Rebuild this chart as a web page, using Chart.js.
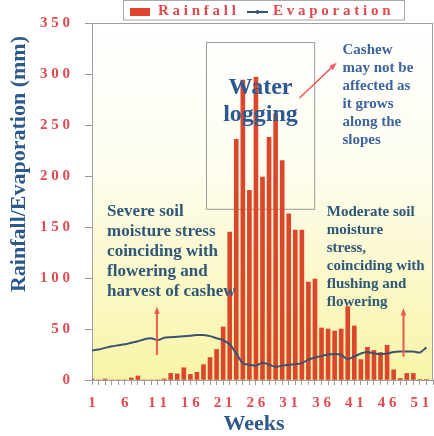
<!DOCTYPE html>
<html>
<head>
<meta charset="utf-8">
<title>Weekly rainfall and evaporation</title>
<script src="https://cdn.jsdelivr.net/npm/chart.js@4.4.1/dist/chart.umd.min.js"></script>
<style>
  html, body { margin: 0; padding: 0; background: #fff; }
  #wrap { width: 434px; height: 436px; }
</style>
</head>
<body>
<div id="wrap"><canvas id="rainChart" width="434" height="436"></canvas></div>
<script>
// Weekly values (mm)
const weeks = ['1', '2', '3', '4', '5', '6', '7', '8', '9', '10',
  '11', '12', '13', '14', '15', '16', '17', '18', '19', '20',
  '21', '22', '23', '24', '25', '26', '27', '28', '29', '30',
  '31', '32', '33', '34', '35', '36', '37', '38', '39', '40',
  '41', '42', '43', '44', '45', '46', '47', '48', '49', '50',
  '51', '52'];
const rainfall = [1, 0, 1, 0, 0, 0, 2, 4, 0, 0,
  0, 1, 6.5, 6, 12, 5.5, 7.5, 15, 22, 30,
  52, 145, 236, 294, 186, 297, 199, 238, 261, 215,
  163, 147, 147, 96, 99, 51, 50, 48, 50, 72,
  53, 20, 32, 29, 27, 34, 10, 1.5, 6.5, 6.5,
  0.5, 0.5];
const evaporation = [29, 30, 31.5, 33, 34, 35, 36.5, 38, 40, 41,
  39, 41.5, 42, 42.5, 43, 43.5, 44, 44, 43, 41,
  39, 35, 26, 16.5, 15, 14, 17, 15, 13, 14,
  15, 15.5, 16.5, 20, 22, 23.5, 25, 25.5, 24.5, 20.5,
  23, 26, 27.5, 26, 25.5, 26, 27.5, 28, 28, 28,
  27, 32];
const labeledWeeks = ['1', '6', '11', '16', '21', '26', '31', '36', '41', '46', '51'];

const SERIF = '"Liberation Serif", "Times New Roman", serif';
const RED = '#e04a50';
const spaced = s => String(s).split('').join(' ');

function drawArrow(ctx, x1, y1, x2, y2, color, width) {
  const a = Math.atan2(y2 - y1, x2 - x1);
  const head = 8;
  ctx.save();
  ctx.strokeStyle = color;
  ctx.fillStyle = color;
  ctx.lineWidth = width;
  ctx.beginPath();
  ctx.moveTo(x1, y1);
  ctx.lineTo(x2 - Math.cos(a) * head * 0.7, y2 - Math.sin(a) * head * 0.7);
  ctx.stroke();
  ctx.beginPath();
  ctx.moveTo(x2, y2);
  ctx.lineTo(x2 - head * Math.cos(a - 0.35), y2 - head * Math.sin(a - 0.35));
  ctx.lineTo(x2 - head * Math.cos(a + 0.35), y2 - head * Math.sin(a + 0.35));
  ctx.closePath();
  ctx.fill();
  ctx.restore();
}

function drawLines(ctx, lines, x, y, lh) {
  lines.forEach((t, i) => ctx.fillText(t, x, y + i * lh));
}

// background, box, legend, titles and notes
const decor = {
  id: 'decor',
  beforeDatasetsDraw(chart) {
    const {ctx, chartArea: a, scales: {x, y}} = chart;
    const g = ctx.createLinearGradient(0, a.top, 0, a.bottom);
    g.addColorStop(0, '#ffffff');
    g.addColorStop(0.4, '#fefdf0');
    g.addColorStop(1, '#f8f4a6');
    ctx.save();
    ctx.fillStyle = g;
    ctx.fillRect(a.left, a.top, a.right - a.left, a.bottom - a.top);
    ctx.strokeStyle = '#a0a0a0';
    ctx.lineWidth = 1;
    ctx.strokeRect(a.left + 0.5, a.top + 0.5, a.right - a.left - 1, a.bottom - a.top);
    // water logging box
    const px = w => x.getPixelForValue(w - 1);
    const bx1 = px(18.4), bx2 = px(34.9), by1 = y.getPixelForValue(331), by2 = y.getPixelForValue(167.5);
    ctx.strokeStyle = '#9a9a9a';
    ctx.strokeRect(Math.round(bx1) + 0.5, Math.round(by1) + 0.5, bx2 - bx1, by2 - by1);
    ctx.restore();
  },
  afterDatasetsDraw(chart) {
    const {ctx, scales: {x, y}} = chart;
    const px = w => x.getPixelForValue(w - 1);
    const py = v => y.getPixelForValue(v);
    ctx.save();
    ctx.textBaseline = 'middle';

    ctx.textAlign = 'center';
    ctx.fillStyle = '#2e5a92';
    ctx.font = 'bold 24px ' + SERIF;
    ctx.fillText('Water', px(26.7), py(286));
    ctx.fillText('logging', px(26.7), py(260));

    ctx.textAlign = 'left';
    ctx.fillStyle = '#3c64a0';
    ctx.font = 'bold 15px ' + SERIF;
    drawLines(ctx, ['Cashew', 'may not be', 'affected as', 'it grows', 'along the', 'slopes'], px(39.2), py(323.5), 18);

    ctx.fillStyle = '#2f5878';
    ctx.font = 'bold 17px ' + SERIF;
    drawLines(ctx, ['Severe soil', 'moisture stress', 'coinciding with', 'flowering and', 'harvest of cashew'], px(3.3), py(165), 20);

    ctx.font = 'bold 15px ' + SERIF;
    drawLines(ctx, ['Moderate soil', 'moisture', 'stress,', 'coinciding with', 'flushing and', 'flowering'], px(36.8), py(165), 18);

    drawArrow(ctx, px(32.65), py(276.5), px(38.3), py(311), '#ec5a62', 1.5);
    drawArrow(ctx, px(10.9), py(24.5), px(10.9), py(72), '#ec5a4a', 2);
    drawArrow(ctx, px(48.5), py(22.8), px(48.5), py(70.5), '#ec5a4a', 2);
    ctx.restore();
  },
  afterDraw(chart) {
    const {ctx} = chart;
    ctx.save();
    // legend
    ctx.fillStyle = '#fff';
    ctx.fillRect(123, 0, 282, 20);
    ctx.strokeStyle = '#a8a8a8';
    ctx.lineWidth = 1;
    ctx.strokeRect(123.5, 0.5, 281, 19.5);
    ctx.fillStyle = '#e0442c';
    ctx.fillRect(130, 8, 20, 8);
    ctx.strokeStyle = '#3a5373';
    ctx.lineWidth = 2;
    ctx.beginPath();
    ctx.moveTo(247, 12); ctx.lineTo(268, 12);
    ctx.moveTo(257.5, 10); ctx.lineTo(257.5, 14);
    ctx.stroke();
    ctx.fillStyle = RED;
    ctx.font = 'bold 15px ' + SERIF;
    ctx.textBaseline = 'middle';
    ctx.textAlign = 'left';
    ctx.fillText(spaced('Rainfall'), 158, 11);
    ctx.fillText(spaced('Evaporation'), 273, 11);

    // axis titles
    ctx.fillStyle = '#2d5a8a';
    ctx.textAlign = 'center';
    ctx.font = 'bold 22px ' + SERIF;
    ctx.fillText('Weeks', 254, 424);
    ctx.translate(19, 164);
    ctx.rotate(-Math.PI / 2);
    ctx.fillText('Rainfall/Evaporation (mm)', 0, 0);
    ctx.restore();
  }
};

new Chart(document.getElementById('rainChart'), {
  type: 'bar',
  data: {
    labels: [...weeks, ''],
    datasets: [
      {
        type: 'line',
        label: 'Evaporation',
        data: evaporation,
        borderColor: '#3a5373',
        borderWidth: 2,
        pointRadius: 0,
        tension: 0.3,
        fill: false
      },
      {
        label: 'Rainfall',
        data: rainfall,
        backgroundColor: '#dc472b',
        barThickness: 4
      }
    ]
  },
  options: {
    responsive: false,
    animation: false,
    layout: { padding: { top: 23, right: 1, bottom: 0, left: 0 } },
    plugins: {
      legend: { display: false },
      tooltip: { enabled: false }
    },
    scales: {
      x: {
        type: 'category',
        offset: false,
        grid: { display: true, drawOnChartArea: false, offset: false, tickLength: 5, color: '#9a9a9a' },
        border: { color: '#9a9a9a' },
        ticks: {
          autoSkip: false,
          maxRotation: 0,
          padding: 9,
          color: RED,
          font: { family: SERIF, size: 15, weight: 'bold' },
          callback: function (val, i) {
            const w = weeks[i];
            return labeledWeeks.includes(w) ? spaced(w) : '';
          }
        },
        afterFit: s => { s.height = 56; s.paddingLeft = 0; s.paddingRight = 0; }
      },
      y: {
        min: 0,
        max: 350,
        grid: { drawOnChartArea: false, tickLength: 7, color: '#9a9a9a' },
        border: { color: '#9a9a9a' },
        ticks: {
          stepSize: 50,
          padding: 15,
          color: RED,
          font: { family: SERIF, size: 15, weight: 'bold' },
          callback: v => spaced(v)
        },
        afterFit: s => { s.width = 92; s.paddingTop = 0; s.paddingBottom = 0; }
      }
    }
  },
  plugins: [decor]
});
</script>
</body>
</html>
